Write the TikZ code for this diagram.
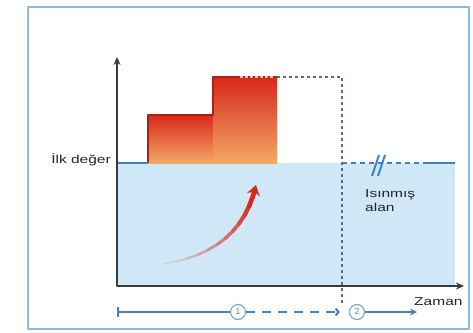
\documentclass[tikz,border=0pt]{standalone}
\usepackage{fontspec}
\setmainfont{Liberation Sans}
\usepackage{graphicx}
\usetikzlibrary{arrows.meta}

\definecolor{frameblue}{HTML}{8FB8E3}
\definecolor{areablue}{HTML}{CFE7F6}
\definecolor{baseblue}{HTML}{3C82C8}
\definecolor{dotblue}{HTML}{4E6F95}
\definecolor{axisgray}{HTML}{3A3A3A}
\definecolor{hotred}{HTML}{D8281C}
\definecolor{warmorange}{HTML}{F2A866}
\definecolor{timeblue}{HTML}{4F80B5}

\newcommand\widelbl[1]{\scalebox{1.35}[1]{#1}}

\tikzset{
  lbl/.style={font=\fontsize{11.5}{14}\selectfont, text=black!85, inner sep=0pt},
  phasenum/.style={circle, draw=timeblue!70, line width=1.2pt, fill=white, minimum size=15pt,
    inner sep=0pt, font=\fontsize{8.5}{9}\selectfont, text=timeblue},
  dotline/.style={dotblue, line width=2pt, dash pattern=on 3pt off 3pt},
  timeline/.style={timeblue, line width=2pt},
}

\begin{document}
\begin{tikzpicture}[x=1pt, y=-1pt, line join=round]

  %% ════ frame ════
  \draw[frameblue, line width=2.5pt] (28,7) rectangle (469,329);

  %% ════ warmed area ════
  \fill[areablue] (117,163) rectangle (455,286);

  %% ════ steps ════
  \shade[top color=hotred, bottom color=warmorange] (148,115) rectangle (213,163);
  \shade[top color=hotred, bottom color=warmorange] (213,77) rectangle (277,163);
  \draw[hotred!80!black, line width=2pt] (148,163) |- (213,115) |- (277,77);

  %% ════ initial value line ════
  \draw[baseblue, line width=2.6pt] (117,163) -- (148,163);
  \draw[baseblue, line width=2.6pt, dash pattern=on 5pt off 4pt] (342,163) -- (425,163);
  \draw[baseblue, line width=2.6pt] (425,163) -- (455,163);
  \draw[baseblue, line width=2pt] (372,176) -- (379,155) (378,176) -- (385,155);

  %% ════ dotted limit ════
  \draw[white!70!hotred, line width=1.5pt, dash pattern=on 3pt off 2pt] (240,77) -- (275,77);
  \draw[dotline] (277,77) -- (342,77) -- (342,303);

  %% ════ axes ════
  \draw[axisgray, line width=2.4pt, {Stealth[length=8pt,width=7pt]}-{Stealth[length=8pt,width=7pt]}]
    (117,57) -- (117,286) -- (464,286);

  %% ════ rising arrow (faded tail) ════
  \path (163,264) .. controls (215,256) and (246,230) .. (256,185)
    foreach \k in {0,...,12} {coordinate[pos=\k/12] (rise\k)};
  \foreach \k [count=\n, evaluate=\k as \mix using int(10+\k*9), evaluate=\k as \lw using 1.6+0.3*\k] in {0,...,10}
    \draw[hotred!\mix!areablue, line width=\lw pt, line cap=round] (rise\k) -- (rise\n);
  \draw[hotred, line width=4.6pt, -{Stealth[length=10pt,width=13pt]}] (rise11) -- (rise12);

  %% ════ labels ════
  \node[lbl, anchor=east] (initval) at (111,160) {\widelbl{İlk değer}};
  \node[lbl, anchor=north west, align=left] (warmzone) at (365,189) {\widelbl{Isınmış}\\\widelbl{alan}};
  \node[lbl, anchor=west] (timelbl) at (414,302) {\widelbl{Zaman}};

  %% ════ timeline ════
  \coordinate (tlstart) at (117,312);
  \node[phasenum] (phaseA) at (238,312) {1};
  \node[phasenum] (phaseB) at (357,312) {2};
  \coordinate (tlend) at (417,312);
  \draw[timeline, {Bar[width=10pt]}-] (tlstart) -- (phaseA);
  \draw[timeline, dash pattern=on 9pt off 7pt, -{Straight Barb[length=3pt,width=7pt]}, shorten >=9pt] (phaseA) -- (phaseB);
  \draw[timeline, -{Stealth[length=7pt,width=7pt]}] (phaseB) -- (tlend);

  \pgfresetboundingbox
  \path[use as bounding box] (0,0) rectangle (473,332);
\end{tikzpicture}
\end{document}
